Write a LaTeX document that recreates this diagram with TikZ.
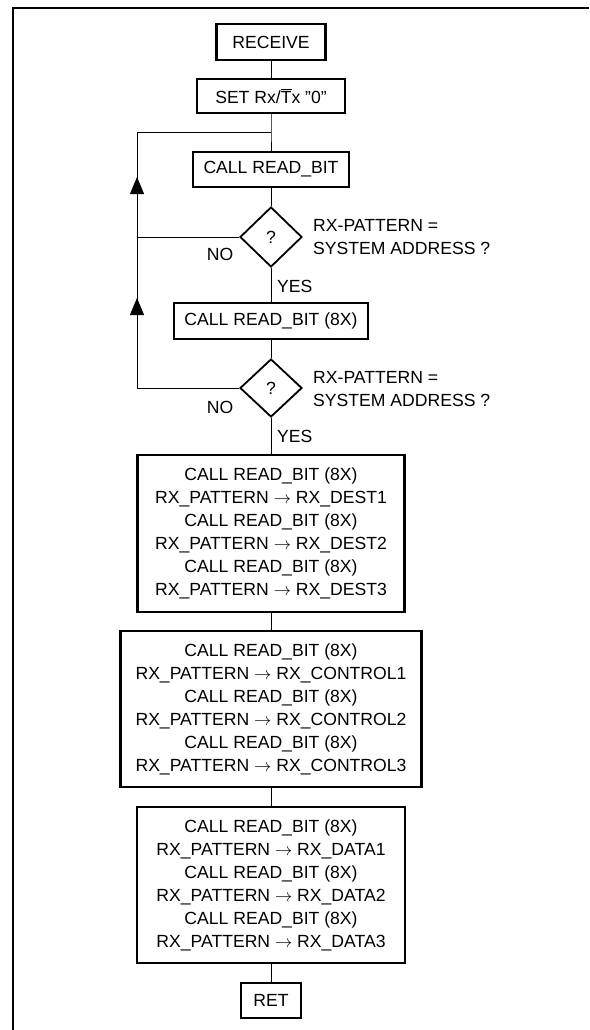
\documentclass[tikz,border=0pt]{standalone}
\usepackage{amsmath}
\usepackage{fontspec}
\setmainfont{Liberation Sans}
\usepackage{tikz}
\usetikzlibrary{
	arrows.meta,
	shapes.geometric,
	decorations.markings
}

\begin{document}
\begin{tikzpicture}[x=1pt, y=-1pt,
	font=\fontsize{17.6}{23}\selectfont,
	box/.style={draw, line width=2.2pt, align=center, inner sep=0pt},
	cond/.style={draw, diamond, line width=1.8pt, inner sep=0pt, minimum width=62pt, minimum height=60pt},
	line/.style={line width=1pt},
	note/.style={inner sep=0pt, align=left},
	uparrow/.style={postaction={decorate}, decoration={markings, mark=at position #1 with {\arrow{Triangle[length=17pt,width=14pt]}}}}
	]
		\useasboundingbox (0,0) rectangle (589,1030);
		\draw[line width=2pt] (13,1030) -- (13,8) -- (589,8);
		
		% Kopf
		\node[box, minimum width=109pt, minimum height=36pt] (receive) at (271,42) {RECEIVE};
		\node[box, minimum width=148pt, minimum height=34pt] (set) at (271,96) {SET Rx/$\overline{\mbox{T}}$x ''0''};
		\coordinate (J1) at (271,133);
		\coordinate (L1) at (137,133);
		
		% Adresse pruefen
		\node[box, minimum width=156pt, minimum height=35pt] (read1) at (271,169.5) {CALL READ\_BIT};
		\node[cond] (d1) at (271,237) {?};
		\node[note, anchor=west] (q1) at (313,237) {RX-PATTERN =\\SYSTEM ADDRESS ?};
		\node[inner sep=0pt] (no1) at (220,254) {NO};
		\node[inner sep=0pt, anchor=west] (yes1) at (277,286) {YES};
		\node[box, minimum width=194pt, minimum height=36pt] (read8) at (271,321) {CALL READ\_BIT (8X)};
		\node[cond, minimum height=58pt] (d2) at (271,388) {?};
		\node[note, anchor=west] (q2) at (313,389) {RX-PATTERN =\\SYSTEM ADDRESS ?};
		\node[inner sep=0pt] (no2) at (220,407) {NO};
		\node[inner sep=0pt, anchor=west] (yes2) at (277,436) {YES};
		\coordinate (L2) at (L1 |- d1);
		\coordinate (L3) at (L1 |- d2);
		
		% Datenbloecke
		\node[box, minimum width=267pt, minimum height=157pt] (dest) at (271,533.5) {CALL READ\_BIT (8X)\\RX\_PATTERN $\rightarrow$ RX\_DEST1\\CALL READ\_BIT (8X)\\RX\_PATTERN $\rightarrow$ RX\_DEST2\\CALL READ\_BIT (8X)\\RX\_PATTERN $\rightarrow$ RX\_DEST3};
		\node[box, minimum width=301pt, minimum height=156pt] (control) at (271,709) {CALL READ\_BIT (8X)\\RX\_PATTERN $\rightarrow$ RX\_CONTROL1\\CALL READ\_BIT (8X)\\RX\_PATTERN $\rightarrow$ RX\_CONTROL2\\CALL READ\_BIT (8X)\\RX\_PATTERN $\rightarrow$ RX\_CONTROL3};
		\node[box, minimum width=268pt, minimum height=156pt] (data) at (271,885) {CALL READ\_BIT (8X)\\RX\_PATTERN $\rightarrow$ RX\_DATA1\\CALL READ\_BIT (8X)\\RX\_PATTERN $\rightarrow$ RX\_DATA2\\CALL READ\_BIT (8X)\\RX\_PATTERN $\rightarrow$ RX\_DATA3};
		\node[box, minimum width=60pt, minimum height=35pt] (ret) at (271,1000.5) {RET};
		
		% Verbindungen
		\draw[line] (receive) -- (set);
		\draw[line] (set) -- (J1) -- (read1);
		\draw[line] (read1) -- (d1);
		\draw[line] (d1) -- (read8);
		\draw[line] (read8) -- (d2);
		\draw[line] (d2) -- (dest);
		\draw[line] (dest) -- (control);
		\draw[line] (control) -- (data);
		\draw[line] (data) -- (ret);
		
		% Ruecksprung
		\draw[line] (d1.west) -- (L2);
		\draw[line, uparrow=60pt] (L2) -- (L1) -- (J1);
		\draw[line] (d2.west) -- (L3);
		\draw[line, uparrow=90pt] (L3) -- (L2);
		
	\end{tikzpicture}
\end{document}
